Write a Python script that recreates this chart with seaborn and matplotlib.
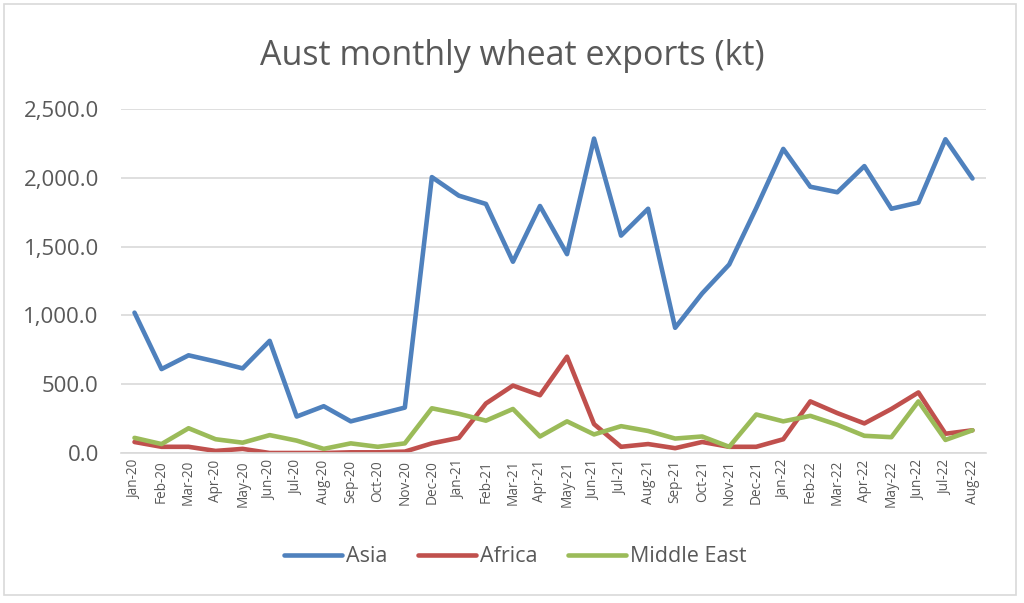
import matplotlib
matplotlib.use("Agg")
import matplotlib.pyplot as plt
import seaborn as sns
import pandas as pd
from matplotlib.patches import Rectangle
from matplotlib.lines import Line2D
from matplotlib.ticker import FuncFormatter

months = ["Jan-20", "Feb-20", "Mar-20", "Apr-20", "May-20", "Jun-20", "Jul-20", "Aug-20",
          "Sep-20", "Oct-20", "Nov-20", "Dec-20", "Jan-21", "Feb-21", "Mar-21", "Apr-21",
          "May-21", "Jun-21", "Jul-21", "Aug-21", "Sep-21", "Oct-21", "Nov-21", "Dec-21",
          "Jan-22", "Feb-22", "Mar-22", "Apr-22", "May-22", "Jun-22", "Jul-22", "Aug-22"]

asia = [1020, 610, 710, 665, 615, 815, 265, 340, 230, 280, 330, 2005,
        1870, 1810, 1390, 1795, 1445, 2285, 1580, 1775, 910, 1160, 1370, 1780,
        2210, 1935, 1895, 2085, 1775, 1820, 2280, 1995]
africa = [80, 45, 45, 15, 30, 0, 0, 0, 5, 5, 10, 70,
          110, 360, 490, 420, 700, 210, 45, 65, 35, 80, 45, 45,
          100, 375, 290, 215, 320, 440, 140, 165]
middle_east = [110, 65, 180, 100, 75, 130, 90, 30, 70, 45, 70, 325,
               285, 235, 320, 120, 230, 135, 195, 160, 105, 120, 45, 280,
               230, 270, 205, 125, 115, 375, 95, 165]

series_names = ["Asia", "Africa", "Middle East"]
colors = ["#4F81BD", "#C0504D", "#9BBB59"]

df = pd.concat([
    pd.DataFrame({"Month": months, "Value": vals, "Region": name})
    for name, vals in zip(series_names, [asia, africa, middle_east])
], ignore_index=True)

sns.set_theme(style="white")
plt.rcParams["font.family"] = ["Open Sans", "DejaVu Sans"]

fig = plt.figure(figsize=(10.24, 6.03), dpi=100)
ax = fig.add_axes([121 / 1024, 1 - 453 / 603, (986 - 121) / 1024, (453 - 109) / 603])

sns.lineplot(data=df, x="Month", y="Value", hue="Region", hue_order=series_names,
             palette=colors, linewidth=3.3, sort=False, ax=ax, legend=False)

ax.set_xlim(-0.5, len(months) - 0.5)
ax.set_ylim(0, 2500)
ax.set_yticks([0, 500, 1000, 1500, 2000, 2500])
ax.yaxis.set_major_formatter(FuncFormatter(lambda v, p: f"{v:,.1f}"))
ax.set_xticks(range(len(months)))
ax.set_xticklabels(months, rotation=90, fontsize=9.8, color="#595959")
ax.tick_params(axis="y", labelsize=16, colors="#595959", length=0, pad=16)
ax.tick_params(axis="x", length=0, pad=5)
ax.grid(axis="y", color="#D9D9D9", linewidth=1.2)
ax.set_axisbelow(True)
for s in ["top", "right", "left"]:
    ax.spines[s].set_visible(False)
ax.spines["bottom"].set_color("#D9D9D9")
ax.spines["bottom"].set_linewidth(1.2)
ax.set_xlabel("")
ax.set_ylabel("")

fig.text(0.5, 1 - 56 / 603, "Aust monthly wheat exports (kt)", ha="center", va="center",
         fontsize=24.5, color="#595959")

handles = [Line2D([], [], color=c, linewidth=3.3) for c in colors]
fig.legend(handles, series_names, loc="center", bbox_to_anchor=(0.503, 1 - 557 / 603),
           ncol=3, frameon=False, fontsize=15.5, handlelength=2.7, columnspacing=1.4,
           handletextpad=0.2, labelcolor="#595959")

fig.patches.append(Rectangle((4 / 1024, 1 - 595 / 603), 1012 / 1024, 591 / 603,
                             transform=fig.transFigure, fill=False,
                             edgecolor="#D9D9D9", linewidth=1.2))

fig.savefig("out.png", dpi=100, facecolor="white")
